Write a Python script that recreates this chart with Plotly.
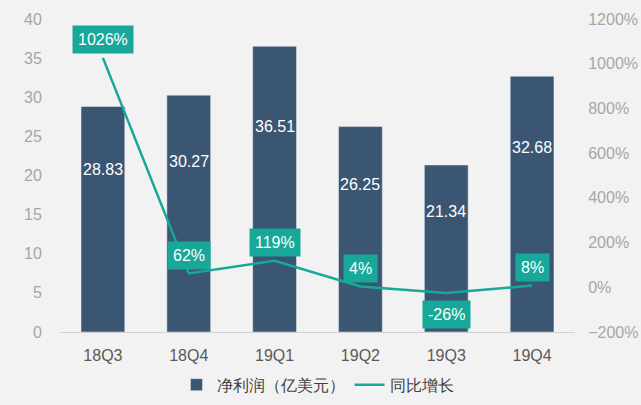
import plotly.graph_objects as go

quarters = ["18Q3", "18Q4", "19Q1", "19Q2", "19Q3", "19Q4"]
net_profit = [28.83, 30.27, 36.51, 26.25, 21.34, 32.68]
yoy_growth = [1026, 62, 119, 4, -26, 8]
yoy_labels = ["1026%", "62%", "119%", "4%", "-26%", "8%"]
label_below = [False, False, False, False, True, False]

BAR = "#3b5672"
TEAL = "#17a89a"
FONT = "Liberation Sans, Arial, sans-serif"

fig = go.Figure()
fig.add_trace(go.Bar(
    x=quarters, y=net_profit, name="净利润（亿美元）",
    marker_color=BAR, width=0.51, yaxis="y",
))
fig.add_trace(go.Scatter(
    x=quarters, y=yoy_growth, name="同比增长", mode="lines",
    line=dict(color=TEAL, width=2.5), yaxis="y2",
))

annotations = []
for q, v in zip(quarters, net_profit):
    annotations.append(dict(
        x=q, y=v * 0.72, xref="x", yref="y", text=f"{v:.2f}",
        showarrow=False, font=dict(color="white", size=16, family=FONT),
    ))
for q, g, t, below in zip(quarters, yoy_growth, yoy_labels, label_below):
    annotations.append(dict(
        x=q, y=g, xref="x", yref="y2", text=t, showarrow=False,
        yshift=-21 if below else 18,
        bgcolor=TEAL, borderpad=5,
        font=dict(color="white", size=16, family=FONT),
    ))

fig.update_layout(
    width=641, height=405,
    margin=dict(l=60, r=66, t=19, b=73, autoexpand=False),
    paper_bgcolor="#f2f2f2", plot_bgcolor="#f2f2f2",
    font=dict(family=FONT),
    bargap=0.49,
    showlegend=True,
    legend=dict(orientation="h", x=0.5, xanchor="center",
                yref="container", y=0.05, yanchor="middle",
                font=dict(size=16, color="#404040"), bgcolor="rgba(0,0,0,0)"),
    xaxis=dict(showgrid=False, showline=True, linecolor="#d0d0d0", linewidth=1,
               tickfont=dict(size=16, color="#595959"),
               ticks="outside", ticklen=9, tickcolor="rgba(0,0,0,0)"),
    yaxis=dict(range=[0, 40], dtick=5, showgrid=False, zeroline=False,
               tickfont=dict(size=16, color="#a6a6a6"),
               ticks="outside", ticklen=14, tickcolor="rgba(0,0,0,0)"),
    yaxis2=dict(range=[-200, 1200], dtick=200, overlaying="y", side="right",
                showgrid=False, zeroline=False, ticksuffix="%",
                tickfont=dict(size=16, color="#a6a6a6"),
                ticks="outside", ticklen=9, tickcolor="rgba(0,0,0,0)"),
    annotations=annotations,
)

fig.write_html("out.html")
